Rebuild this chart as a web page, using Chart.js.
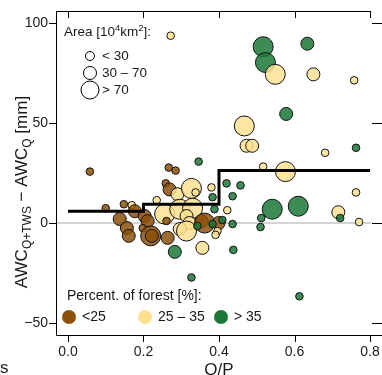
<!DOCTYPE html>
<html>
<head>
<meta charset="utf-8">
<script src="https://cdn.jsdelivr.net/npm/chart.js@4.4.0/dist/chart.umd.min.js"></script>
<style>
  html, body { margin: 0; padding: 0; background: #fff; }
  canvas { display: block; }
</style>
</head>
<body>
<canvas id="chart-awc" width="382" height="375"></canvas>
<script>
// basins: runoff ratio, AWC difference [mm], area [10^4 km2], forest cover [%]
var qp = [0.517, 0.634, 0.523, 0.549, 0.650, 0.758, 0.272, 0.578, 0.467, 0.473,
  0.488, 0.681, 0.763, 0.058, 0.267, 0.285, 0.346, 0.259, 0.269, 0.100,
  0.148, 0.169, 0.177, 0.137, 0.156, 0.161, 0.203, 0.211, 0.198, 0.219,
  0.222, 0.235, 0.256, 0.264, 0.261, 0.290, 0.296, 0.327, 0.338, 0.330,
  0.314, 0.322, 0.296, 0.314, 0.354, 0.362, 0.343, 0.399, 0.383, 0.396,
  0.391, 0.356, 0.283, 0.380, 0.420, 0.457, 0.383, 0.436, 0.388, 0.422,
  0.409, 0.436, 0.438, 0.517, 0.576, 0.541, 0.610, 0.512, 0.510, 0.716,
  0.721, 0.771, 0.763, 0.327, 0.613];
var awcDiff = [88.1, 89.6, 80.2, 74.3, 74.3, 71.3, 93.6, 54.5, 48.5, 38.6,
  38.6, 35.1, 37.6, 25.7, 27.7, 26.2, 30.7, 19.8, 16.8, 7.4,
  9.4, 8.9, 5.9, 2.0, -2.5, -6.4, 3.5, 1.0, -2.5, -6.4,
  -6.4, 11.4, 4.5, -7.4, 1.0, 14.4, 6.9, 17.3, 15.3, 7.4,
  3.5, 0.0, -3.0, -4.0, 1.0, 0.0, -1.5, 0.0, -0.5, -4.0,
  -5.9, -12.4, -14.4, 17.8, 19.8, 18.8, 12.9, 13.4, 6.9, 6.4,
  1.5, -0.5, -13.4, 28.2, 25.7, 6.9, 8.4, 2.5, -2.0, 5.4,
  2.5, 0.5, 15.3, -27.2, -36.6];
var area = [110, 45, 95, 90, 40, 12, 8, 50, 85, 45,
  50, 15, 14, 18, 20, 16, 13, 22, 48, 17,
  19, 10, 42, 55, 40, 45, 38, 60, 20, 100,
  35, 14, 80, 50, 12, 45, 95, 120, 15, 85,
  55, 40, 60, 90, 45, 90, 18, 40, 16, 14,
  12, 45, 50, 15, 17, 19, 14, 16, 13, 18,
  12, 15, 14, 16, 105, 130, 115, 12, 13, 50,
  11, 14, 15, 12, 11];
var forest = [48, 52, 41, 31, 29, 33, 27, 44, 28, 30,
  32, 26, 39, 12, 18, 21, 37, 15, 20, 14,
  22, 26, 19, 10, 16, 23, 21, 13, 24, 17,
  11, 34, 27, 20, 8, 30, 33, 28, 31, 25,
  34, 29, 27, 32, 18, 14, 40, 22, 38, 26,
  30, 33, 42, 27, 45, 50, 39, 43, 47, 29,
  36, 41, 37, 28, 31, 55, 60, 39, 42, 26,
  38, 30, 32, 46, 40];

// step of the class means
var stepQp = [0, 0.2, 0.4, 0.8];
var stepAwc = [5.9, 9.4, 26.2, 26.2];

var xTicks = [0, 0.2, 0.4, 0.6, 0.8];
var xTickLabels = ["0.0", "0.2", "0.4", "0.6", "0.8"];
var yTicks = [100, 50, 0, -50];
var yTickLabels = ["100", "50", "0", "\u221250"];
var areaClasses = ["< 30", "30 \u2013 70", "> 70"];
var forestClasses = ["<25", "25 \u2013 35", "> 35"];

var BROWN = "140, 81, 10";
var YELLOW = "254, 224, 144";
var GREEN = "27, 120, 55";
var FONT = "'Liberation Sans', Arial, sans-serif";

function forestColor(f) {
  if (f < 25) return BROWN;
  if (f <= 35) return YELLOW;
  return GREEN;
}
function areaRadius(a) {
  if (a < 30) return 3.8;
  if (a <= 70) return 6.5;
  return 10;
}

var points = [];
for (let i = 0; i < qp.length; i++) {
  points.push({ x: qp[i], y: awcDiff[i] });
}
var steps = [];
for (let i = 0; i < stepQp.length; i++) {
  steps.push({ x: stepQp[i], y: stepAwc[i] });
}

// draw text pieces one after another (for sub/superscripts)
function drawRuns(ctx, x, y, runs) {
  var cx = x;
  for (let r of runs) {
    ctx.font = r.size + "px " + FONT;
    ctx.fillText(r.t, cx, y + (r.dy || 0));
    cx += ctx.measureText(r.t).width;
  }
  return cx - x;
}
function runsWidth(ctx, runs) {
  var w = 0;
  for (let r of runs) {
    ctx.font = r.size + "px " + FONT;
    w += ctx.measureText(r.t).width;
  }
  return w;
}

var frame = {
  id: "frame",
  beforeDatasetsDraw: function (chart) {
    var ctx = chart.ctx;
    var a = chart.chartArea;
    var y0 = chart.scales.y.getPixelForValue(0);
    ctx.save();
    ctx.strokeStyle = "#d4d4d4";
    ctx.lineWidth = 2;
    ctx.beginPath();
    ctx.moveTo(a.left, y0);
    ctx.lineTo(a.right, y0);
    ctx.stroke();
    ctx.restore();
  },
  afterDraw: function (chart) {
    var ctx = chart.ctx;
    var a = chart.chartArea;
    var xs = chart.scales.x;
    var ys = chart.scales.y;
    var x08 = Math.round(xs.getPixelForValue(0.8)) + 0.5;
    ctx.save();
    ctx.strokeStyle = "#000";
    ctx.lineWidth = 1;
    ctx.beginPath();
    // box parts
    ctx.moveTo(a.left + 0.5, a.top);
    ctx.lineTo(a.left + 0.5, a.bottom + 0.5);
    ctx.lineTo(382, a.bottom + 0.5);
    ctx.moveTo(a.left, a.top + 0.5);
    ctx.lineTo(x08, a.top + 0.5);
    // x ticks
    for (let v of xTicks) {
      var px = Math.round(xs.getPixelForValue(v)) + 0.5;
      ctx.moveTo(px, a.bottom);
      ctx.lineTo(px, a.bottom + 7);
      ctx.moveTo(px, a.top);
      ctx.lineTo(px, a.top + 7);
    }
    // y ticks
    for (let v of yTicks) {
      var py = Math.round(ys.getPixelForValue(v)) + 0.5;
      ctx.moveTo(a.left - 7, py);
      ctx.lineTo(a.left, py);
      ctx.moveTo(a.right + 1, py);
      ctx.lineTo(382, py);
    }
    ctx.stroke();

    ctx.fillStyle = "#1a1a1a";
    ctx.font = "14px " + FONT;
    ctx.textBaseline = "middle";
    ctx.textAlign = "center";
    xTicks.forEach(function (v, i) {
      ctx.fillText(xTickLabels[i], xs.getPixelForValue(v), 352);
    });
    ctx.textAlign = "right";
    yTicks.forEach(function (v, i) {
      ctx.fillText(yTickLabels[i], a.left - 8, ys.getPixelForValue(v));
    });

    // axis titles
    ctx.textAlign = "center";
    ctx.textBaseline = "alphabetic";
    ctx.font = "17px " + FONT;
    ctx.fillText("Q/P", xs.getPixelForValue(0.4), 375);
    ctx.textAlign = "left";
    ctx.fillText("s", 0, 373);

    var ttl = [
      { t: "AWC", size: 17 },
      { t: "Q+TWS", size: 12, dy: 4 },
      { t: " \u2212 AWC", size: 17 },
      { t: "Q", size: 12, dy: 4 },
      { t: " [mm]", size: 17 },
    ];
    ctx.save();
    ctx.translate(27, 192);
    ctx.rotate(-Math.PI / 2);
    drawRuns(ctx, -runsWidth(ctx, ttl) / 2, 0, ttl);
    ctx.restore();

    // area legend
    ctx.textBaseline = "middle";
    drawRuns(ctx, 64, 32, [
      { t: "Area [10", size: 13.5 },
      { t: "4", size: 9.5, dy: -4 },
      { t: "km", size: 13.5 },
      { t: "2", size: 9.5, dy: -4 },
      { t: "]:", size: 13.5 },
    ]);
    var legR = [4.5, 6.5, 9];
    var legY = [56, 73, 90];
    ctx.font = "13.5px " + FONT;
    for (let i = 0; i < areaClasses.length; i++) {
      ctx.beginPath();
      ctx.arc(90, legY[i], legR[i], 0, Math.PI * 2);
      ctx.fillStyle = "#fff";
      ctx.fill();
      ctx.stroke();
      ctx.fillStyle = "#1a1a1a";
      ctx.fillText(areaClasses[i], 102, legY[i]);
    }

    // forest legend
    ctx.font = "14px " + FONT;
    ctx.fillText("Percent. of forest [%]:", 67, 296);
    var legCol = [BROWN, YELLOW, GREEN];
    var legX = [69, 145, 221];
    for (let i = 0; i < forestClasses.length; i++) {
      ctx.beginPath();
      ctx.arc(legX[i], 317, 7, 0, Math.PI * 2);
      ctx.fillStyle = "rgb(" + legCol[i] + ")";
      ctx.fill();
      ctx.fillStyle = "#1a1a1a";
      ctx.fillText(forestClasses[i], legX[i] + 13, 317);
    }
    ctx.restore();
  },
};

var ctx = document.getElementById("chart-awc").getContext("2d");
new Chart(ctx, {
  type: "scatter",
  data: {
    datasets: [
      {
        type: "line",
        data: steps,
        stepped: true,
        borderColor: "#000",
        borderWidth: 3,
        pointRadius: 0,
        fill: false,
        order: 0,
      },
      {
        data: points,
        order: 1,
        pointRadius: function (c) {
          return areaRadius(area[c.dataIndex]);
        },
        pointBackgroundColor: function (c) {
          return "rgba(" + forestColor(forest[c.dataIndex]) + ", 0.85)";
        },
        pointBorderColor: "#111",
        pointBorderWidth: 1,
      },
    ],
  },
  options: {
    responsive: false,
    animation: false,
    devicePixelRatio: 1,
    layout: { padding: { left: 56, top: 8, right: 10, bottom: 40 } },
    plugins: {
      legend: { display: false },
      tooltip: { enabled: false },
    },
    scales: {
      x: { type: "linear", min: -0.0317, max: 0.8026, display: false },
      y: { type: "linear", min: -55.94, max: 105.94, display: false },
    },
  },
  plugins: [frame],
});
</script>
</body>
</html>
